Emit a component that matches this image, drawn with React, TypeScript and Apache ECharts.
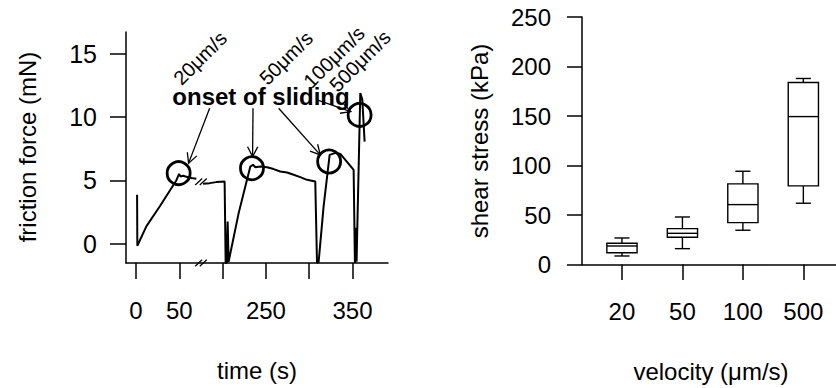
import React, { useEffect, useRef } from "react";
import * as echarts from "echarts";

// ---------- Left panel: friction force trace (time in seconds, force in mN) ----------
const BREAK_AT = 75; // axis break starts here (s)
const BREAK_GAP = 100; // seconds removed by the break

const trace1Time = [1.2, 1.5, 11.9, 27.3, 46.5, 49.7, 51.5, 54.3, 60, 63.9, 69.6];
const trace1Force = [3.87, -0.16, 1.37, 2.94, 5.0, 5.52, 5.31, 5.37, 5.26, 5.19, 5.13];

const trace2Time = [
  177.4, 185, 192.7, 202.3, 203.1, 203.5, 204.6, 205.8, 206.9, 218.5, 232, 235.1, 237.8, 243.5,
  251.3, 258.9, 266.6, 274.4, 282, 289.7, 297.5, 307, 309, 310.9, 316.6, 323.6, 331.3, 335.9,
  341.7, 347.5, 351.3, 352.8, 353.8, 354.7, 359, 361.3, 364,
];
const trace2Force = [
  4.74, 4.79, 4.87, 4.92, 4.93, -1.52, -1.52, 1.76, -1.42, 2.42, 6.1, 6.24, 6.05, 6.1, 6.05, 5.9,
  5.71, 5.63, 5.45, 5.26, 5.05, 4.92, -1.52, -1.42, 2.94, 7.02, 7.2, 7.1, 6.63, 6.16, 5.84, -1.52,
  1.26, -1.42, 11.9, 11.4, 8.07,
];

const onsetTime = [49.2, 233.9, 323, 358.2];
const onsetForce = [5.58, 5.97, 6.5, 10.18];

const arrowFromTime = [185, 235.1, 264.7, 309];
const arrowFromForce = [10.71, 10.71, 10.71, 11.37];
const arrowToTime = [60.7, 234.6, 312.8, 348.1];
const arrowToForce = [6.37, 6.89, 7.02, 10.44];

const breakMarkTime = [75, 75];
const breakMarkForce = [-1.52, 4.9];

const timeTicks = [0, 50, 200, 250, 300, 350];
const timeLabels = [0, 50, 250, 350];
const forceTicks = [0, 5, 10, 15];

// ---------- Right panel: shear stress box plots ----------
const velocities = ["20", "50", "100", "500"];
const stressMin = [8.6, 16, 34.6, 61.9];
const stressQ1 = [11.9, 27.5, 42.3, 79.4];
const stressMedian = [18.7, 31.5, 60.5, 149.4];
const stressQ3 = [21.4, 36.2, 81.4, 183.8];
const stressMax = [26.8, 48, 94.2, 187.9];

const FONT = '"Liberation Sans", Arial, Helvetica, sans-serif';

const brk = (t: number) => (t <= BREAK_AT ? t : t - BREAK_GAP);
const unbrk = (c: number) => (c <= BREAK_AT ? c : c + BREAK_GAP);

function text(
  t: string,
  x: number,
  y: number,
  size: number,
  rotation = 0,
  weight: string = "normal"
) {
  return {
    type: "text",
    x,
    y,
    rotation,
    silent: true,
    style: {
      text: t,
      fill: "#000",
      fontSize: size,
      fontFamily: FONT,
      fontWeight: weight,
      align: "center",
      verticalAlign: "middle",
      textAlign: "center",
      textVerticalAlign: "middle",
    },
  };
}

export default function App() {
  const ref = useRef<HTMLDivElement>(null);

  useEffect(() => {
    document.body.style.margin = "0";
    if (!ref.current) return;
    const chart = echarts.init(ref.current, null, { renderer: "svg" });

    const axisLine = { show: true, onZero: false, lineStyle: { color: "#000", width: 1.5 } };
    const tickStyle = { color: "#000", width: 1.5 };
    const labelStyle = { color: "#000", fontSize: 24, fontFamily: FONT };

    const option: any = {
      animation: false,
      backgroundColor: "#fff",
      grid: [
        { left: 126, top: 32, width: 262, height: 231 },
        { left: 582, top: 17, width: 254, height: 247.5 },
      ],
      xAxis: [
        {
          type: "value",
          gridIndex: 0,
          min: -11.6,
          max: 291,
          axisLine,
          splitLine: { show: false },
          axisTick: {
            show: true,
            inside: false,
            length: 16,
            lineStyle: tickStyle,
            customValues: timeTicks.map(brk),
          },
          axisLabel: {
            ...labelStyle,
            margin: 35.5,
            customValues: timeLabels.map(brk),
            formatter: (v: number) => String(Math.round(unbrk(v))),
          },
        },
        {
          type: "value",
          gridIndex: 1,
          min: 0.339,
          max: 4.54,
          axisLine,
          splitLine: { show: false },
          axisTick: {
            show: true,
            inside: false,
            length: 15.5,
            lineStyle: tickStyle,
            customValues: velocities.map((_, i) => i + 1),
          },
          axisLabel: {
            ...labelStyle,
            margin: 34.5,
            customValues: velocities.map((_, i) => i + 1),
            formatter: (v: number) => velocities[Math.round(v) - 1] ?? "",
          },
        },
      ],
      yAxis: [
        {
          type: "value",
          gridIndex: 0,
          min: -1.52,
          max: 16.73,
          axisLine,
          splitLine: { show: false },
          axisTick: {
            show: true,
            inside: false,
            length: 16,
            lineStyle: tickStyle,
            customValues: forceTicks,
          },
          axisLabel: { ...labelStyle, fontSize: 25, margin: 29, customValues: forceTicks },
        },
        {
          type: "value",
          gridIndex: 1,
          min: 0,
          max: 250,
          interval: 50,
          axisLine,
          splitLine: { show: false },
          axisTick: { show: true, inside: false, length: 15, lineStyle: tickStyle },
          axisLabel: { ...labelStyle, margin: 31 },
        },
      ],
      series: [
        {
          type: "line",
          xAxisIndex: 0,
          yAxisIndex: 0,
          showSymbol: false,
          symbol: "none",
          lineStyle: { color: "#000", width: 2 },
          data: trace1Time.map((t, i) => [brk(t), trace1Force[i]]),
          z: 3,
        },
        {
          type: "line",
          xAxisIndex: 0,
          yAxisIndex: 0,
          showSymbol: false,
          symbol: "none",
          lineStyle: { color: "#000", width: 2 },
          data: trace2Time.map((t, i) => [brk(t), trace2Force[i]]),
          z: 3,
        },
        {
          type: "scatter",
          xAxisIndex: 0,
          yAxisIndex: 0,
          symbol: "circle",
          symbolSize: 23,
          itemStyle: {
            color: "rgba(0,0,0,0)",
            borderColor: "#000",
            borderWidth: 2.8,
            opacity: 1,
          },
          data: onsetTime.map((t, i) => [brk(t), onsetForce[i]]),
          z: 4,
        },
        {
          type: "custom",
          xAxisIndex: 0,
          yAxisIndex: 0,
          data: arrowFromTime.map((t, i) => [
            brk(t),
            arrowFromForce[i],
            brk(arrowToTime[i]),
            arrowToForce[i],
          ]),
          encode: { x: [0, 2], y: [1, 3] },
          renderItem: (_params: any, api: any) => {
            const p1 = api.coord([api.value(0), api.value(1)]);
            const p2 = api.coord([api.value(2), api.value(3)]);
            const ang = Math.atan2(p2[1] - p1[1], p2[0] - p1[0]);
            const L = 11;
            const a = Math.PI / 6.5;
            const h1 = [p2[0] - L * Math.cos(ang - a), p2[1] - L * Math.sin(ang - a)];
            const h2 = [p2[0] - L * Math.cos(ang + a), p2[1] - L * Math.sin(ang + a)];
            return {
              type: "group",
              children: [
                {
                  type: "line",
                  shape: { x1: p1[0], y1: p1[1], x2: p2[0], y2: p2[1] },
                  style: { stroke: "#000", lineWidth: 1.3 },
                },
                {
                  type: "polyline",
                  shape: { points: [h1, p2, h2] },
                  style: { stroke: "#000", fill: "none", lineWidth: 1.3 },
                },
              ],
            };
          },
          z: 5,
        },
        {
          type: "custom",
          xAxisIndex: 0,
          yAxisIndex: 0,
          data: breakMarkTime.map((t, i) => [t, breakMarkForce[i]]),
          renderItem: (_params: any, api: any) => {
            const p = api.coord([api.value(0), api.value(1)]);
            const mk = (dx: number) => ({
              type: "line",
              shape: { x1: p[0] + dx - 3.5, y1: p[1] + 3.3, x2: p[0] + dx + 3.5, y2: p[1] - 3.3 },
              style: { stroke: "#000", lineWidth: 1.2 },
            });
            return { type: "group", children: [mk(-2.3), mk(2.3)] };
          },
          z: 6,
        },
        {
          type: "custom",
          xAxisIndex: 1,
          yAxisIndex: 1,
          data: velocities.map((_, i) => [
            i + 1,
            stressMin[i],
            stressQ1[i],
            stressMedian[i],
            stressQ3[i],
            stressMax[i],
          ]),
          encode: { x: 0, y: [1, 2, 3, 4, 5] },
          renderItem: (_params: any, api: any) => {
            const x = api.value(0);
            const lo = api.coord([x, api.value(1)]);
            const q1 = api.coord([x, api.value(2)]);
            const md = api.coord([x, api.value(3)]);
            const q3 = api.coord([x, api.value(4)]);
            const hi = api.coord([x, api.value(5)]);
            const unit = api.size([1, 0])[0];
            const hw = unit * 0.25;
            const cw = hw * 0.5;
            const cx = md[0];
            const st = { stroke: "#000", lineWidth: 1.4, fill: "none" };
            const ln = (x1: number, y1: number, x2: number, y2: number) => ({
              type: "line",
              shape: { x1, y1, x2, y2 },
              style: st,
            });
            return {
              type: "group",
              children: [
                ln(cx, q3[1], cx, hi[1]),
                ln(cx, q1[1], cx, lo[1]),
                ln(cx - cw, hi[1], cx + cw, hi[1]),
                ln(cx - cw, lo[1], cx + cw, lo[1]),
                {
                  type: "rect",
                  shape: { x: cx - hw, y: q3[1], width: 2 * hw, height: q1[1] - q3[1] },
                  style: { stroke: "#000", lineWidth: 1.4, fill: "#fff" },
                },
                ln(cx - hw, md[1], cx + hw, md[1]),
              ],
            };
          },
        },
      ],
      graphic: [
        text("friction force (mN)", 27, 147, 24, Math.PI / 2),
        text("time (s)", 257, 370, 24),
        text("shear stress (kPa)", 479, 141, 24, Math.PI / 2),
        text("velocity (\u03bcm/s)", 711, 371, 24),
        text("onset of sliding", 261, 96, 24, 0, "bold"),
        text("20\u03bcm/s", 200, 58, 20, Math.PI / 4),
        text("50\u03bcm/s", 286, 58, 20, Math.PI / 4),
        text("100\u03bcm/s", 334, 57, 20, Math.PI / 4),
        text("500\u03bcm/s", 360, 61, 20, Math.PI / 4),
      ],
    };

    chart.setOption(option);
    return () => chart.dispose();
  }, []);

  return (
    <div
      ref={ref}
      style={{ position: "absolute", left: 0, top: 0, width: 836, height: 388, background: "#fff" }}
    />
  );
}
